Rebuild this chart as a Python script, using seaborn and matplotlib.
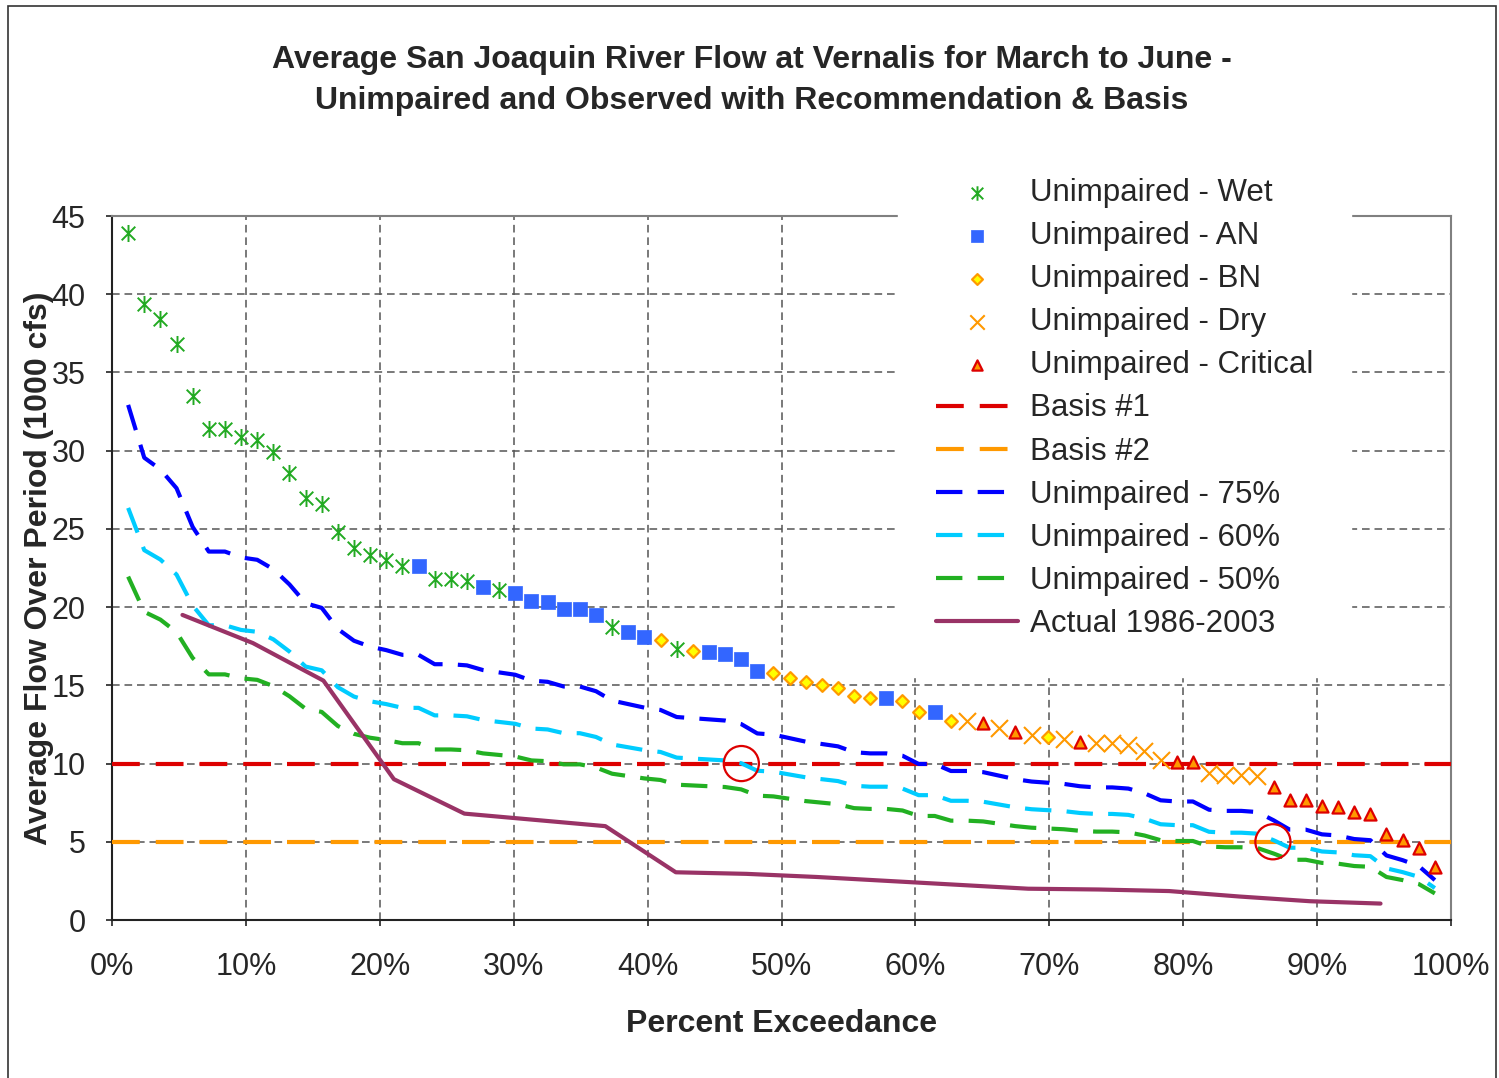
import pandas as pd
import matplotlib
matplotlib.use("Agg")
import matplotlib.pyplot as plt
import seaborn as sns
from matplotlib.path import Path
from matplotlib.patches import Rectangle
from matplotlib.ticker import PercentFormatter, MultipleLocator

# unimpaired Mar-Jun average flow (1000 cfs), ranked high to low, 1922-2003
unimpaired = [43.9, 39.4, 38.4, 36.8, 33.5, 31.4, 31.4, 30.9, 30.7, 29.9,
              28.6, 27.0, 26.6, 24.8, 23.8, 23.3, 23.0, 22.6, 22.6, 21.8,
              21.8, 21.7, 21.3, 21.1, 20.9, 20.4, 20.3, 19.9, 19.9, 19.5,
              18.7, 18.4, 18.1, 17.9, 17.3, 17.2, 17.1, 17.0, 16.7, 15.9,
              15.8, 15.5, 15.2, 15.0, 14.8, 14.3, 14.2, 14.2, 14.0, 13.3,
              13.3, 12.7, 12.7, 12.6, 12.3, 12.0, 11.8, 11.7, 11.6, 11.4,
              11.3, 11.3, 11.2, 10.8, 10.2, 10.1, 10.1, 9.4, 9.3, 9.3,
              9.2, 8.5, 7.7, 7.7, 7.3, 7.2, 6.9, 6.8, 5.5, 5.1,
              4.6, 3.4]
year_type = (["Wet"] * 18 + ["AN"] + ["Wet"] * 3 + ["AN", "Wet"] + ["AN"] * 6
             + ["Wet"] + ["AN"] * 2 + ["BN", "Wet", "BN"] + ["AN"] * 4
             + ["BN"] * 7 + ["AN"] + ["BN"] * 2
             + ["AN", "BN", "Dry", "Critical", "Dry", "Critical", "Dry", "BN", "Dry", "Critical"]
             + ["Dry"] * 5 + ["Critical"] * 2 + ["Dry"] * 4 + ["Critical"] * 11)

# observed 1986-2003, ranked
actual = [19.5, 17.7, 15.3, 9.0, 6.8, 6.4, 6.0, 3.05, 2.95, 2.75,
          2.5, 2.25, 2.0, 1.95, 1.85, 1.5, 1.2, 1.05]

basis1 = 10
basis2 = 5
fractions = [0.75, 0.60, 0.50]
fraction_labels = ["Unimpaired - 75%", "Unimpaired - 60%", "Unimpaired - 50%"]

# highlighted crossings
circle_x = [0.47, 0.867]
circle_y = [10, 5]

n = len(unimpaired)
df = pd.DataFrame({
    "exceed": [(i + 1) / (n + 1) for i in range(n)],
    "flow": unimpaired,
    "type": year_type,
})
for f, lab in zip(fractions, fraction_labels):
    df[lab] = df["flow"] * f
df_act = pd.DataFrame({
    "exceed": [(i + 1) / (len(actual) + 1) for i in range(len(actual))],
    "flow": actual,
})

sns.set_style("white")
plt.rcParams["font.family"] = ["Liberation Sans", "DejaVu Sans"]
plt.rcParams["lines.scale_dashes"] = False

fig = plt.figure(figsize=(14.99, 10.78), dpi=100)
ax = fig.add_axes([112 / 1499, 158 / 1078, 1339 / 1499, 704 / 1078])

star = Path([(0, -1), (0, 1), (-0.8, -0.8), (0.8, 0.8), (-0.8, 0.8), (0.8, -0.8)],
            [Path.MOVETO, Path.LINETO, Path.MOVETO, Path.LINETO, Path.MOVETO, Path.LINETO])

line_dash = (0, (19, 11))
basis_dash = (0, (20, 11.5))

# lines
line_colors = ["#0000FF", "#00CCFF", "#22B022"]
line_handles = []
for lab, c in zip(fraction_labels, line_colors):
    sns.lineplot(data=df, x="exceed", y=lab, ax=ax, color=c, lw=3, linestyle=line_dash,
                 zorder=3)
    line_handles.append(ax.lines[-1])
sns.lineplot(data=df_act, x="exceed", y="flow", ax=ax, color="#993366", lw=3, zorder=3)
h_actual = ax.lines[-1]
h_b1 = ax.axhline(basis1, color="#DD0000", lw=3, linestyle=basis_dash, zorder=2.8)
h_b2 = ax.axhline(basis2, color="#FF9900", lw=3, linestyle=basis_dash, zorder=2.8)

# markers
styles = {
    "Wet": dict(marker=star, s=150, color="#22AA22", edgecolor="#22AA22", linewidth=1.4),
    "AN": dict(marker="s", s=90, color="#3366FF", edgecolor="#3366FF", linewidth=0.5),
    "BN": dict(marker="D", s=42, color="#FFFF00", edgecolor="#FF9900", linewidth=1.6),
    "Dry": dict(marker="x", s=150, color="#FF9900", linewidth=1.5),
    "Critical": dict(marker="^", s=75, color="#FF9900", edgecolor="#DD0000", linewidth=1.6),
}
marker_handles = []
for t, kw in styles.items():
    sub = df[df["type"] == t]
    sns.scatterplot(data=sub, x="exceed", y="flow", ax=ax, zorder=4, **kw)
    marker_handles.append(ax.collections[-1])

ax.scatter(circle_x, circle_y, s=640, facecolors="none", edgecolors="#DD0000",
           linewidths=1.6, zorder=5)

ax.set_xlim(0, 1)
ax.set_ylim(0, 45)
ax.xaxis.set_major_locator(MultipleLocator(0.1))
ax.yaxis.set_major_locator(MultipleLocator(5))
ax.xaxis.set_major_formatter(PercentFormatter(xmax=1, decimals=0))
ax.grid(True, color="#555555", lw=1.1, linestyle=(0, (5.5, 3.5)))
ax.tick_params(axis="both", direction="out", length=4, width=1.2, color="#222222",
               labelsize=22, left=True, bottom=True)
ax.tick_params(axis="y", pad=15)
ax.tick_params(axis="x", pad=19)
for side in ["left", "bottom"]:
    ax.spines[side].set_color("#222222")
    ax.spines[side].set_linewidth(1.5)
for side in ["top", "right"]:
    ax.spines[side].set_color("#808080")
    ax.spines[side].set_linewidth(1.5)

ax.set_xlabel("Percent Exceedance", fontsize=23, fontweight="bold")
ax.set_ylabel("Average Flow Over Period (1000 cfs)", fontsize=23, fontweight="bold")
ax.xaxis.set_label_coords(0.5, -0.126)
ax.yaxis.set_label_coords(-0.0435, 0.5)

fig.suptitle("Average San Joaquin River Flow at Vernalis for March to June -\n"
             "Unimpaired and Observed with Recommendation & Basis",
             x=752 / 1499, y=1 - 45 / 1078, va="top", fontsize=23, fontweight="bold",
             linespacing=1.46)

handles = marker_handles + [h_b1, h_b2] + line_handles + [h_actual]
labels = ["Unimpaired - Wet", "Unimpaired - AN", "Unimpaired - BN", "Unimpaired - Dry",
          "Unimpaired - Critical", "Basis #1", "Basis #2"] + fraction_labels + ["Actual 1986-2003"]
fig.legend(handles, labels, loc="upper left", bbox_to_anchor=(898 / 1499, 1 - 140 / 1078),
           fontsize=22.5, frameon=True, facecolor="white", edgecolor="white", framealpha=1,
           fancybox=False, borderpad=1.21, borderaxespad=0, labelspacing=0.42,
           handlelength=2.62, handletextpad=0.4, markerscale=0.85)

fig.add_artist(Rectangle((8 / 1499, -0.01), 1488 / 1499, 1.01 - 6 / 1078,
                         transform=fig.transFigure, fill=False, edgecolor="#333333", lw=1.2))

plt.savefig("out.png", dpi=100)
plt.close()
